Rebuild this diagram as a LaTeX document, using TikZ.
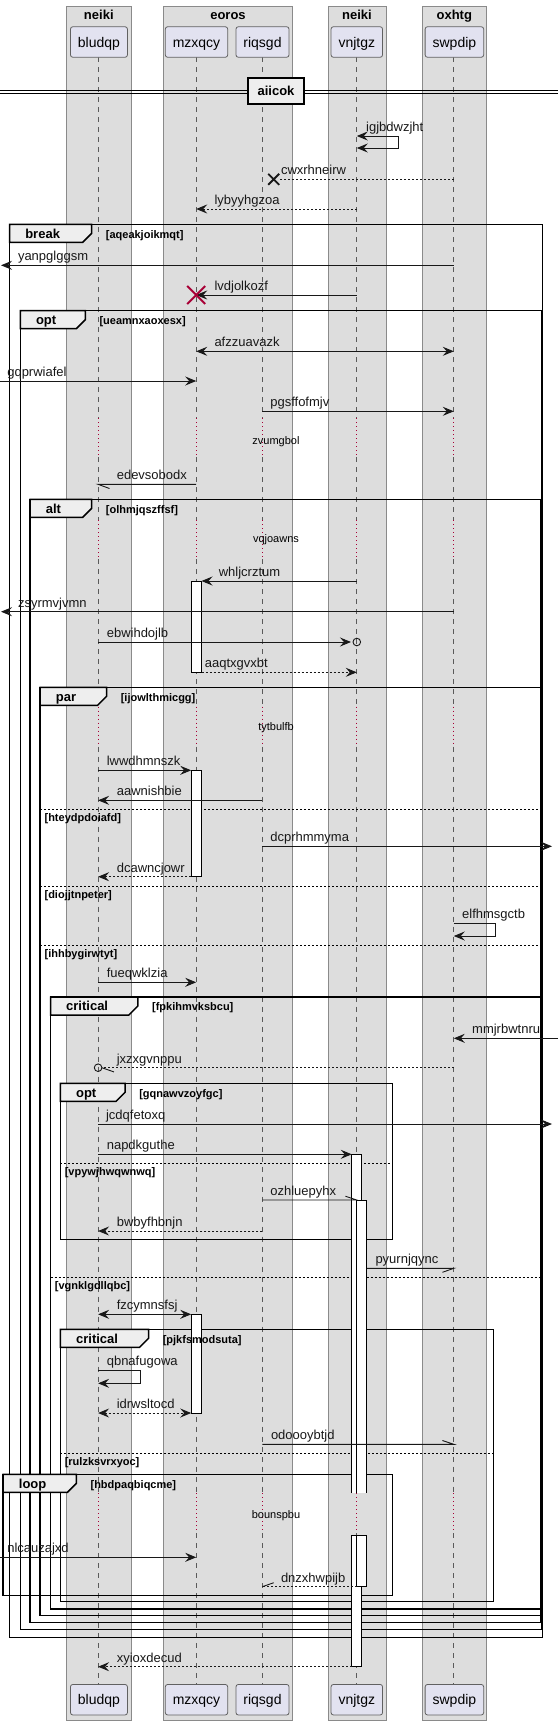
\documentclass[tikz,border=0pt]{standalone}
\usepackage{fontspec}
\setmainfont{Liberation Sans}
\usetikzlibrary{arrows.meta}
\pgfdeclarelayer{fg}
\pgfsetlayers{main,fg}
\definecolor{lanefill}{HTML}{DDDDDD}
\definecolor{partfill}{HTML}{E2E2F0}
\definecolor{tabfill}{HTML}{EEEEEE}
\definecolor{delayred}{HTML}{A80036}
\definecolor{ink}{HTML}{181818}
\definecolor{lanebord}{HTML}{8A8A8A}
\definecolor{lifegray}{HTML}{5A5A5A}
\def\XB{98.1}\def\XM{196.2}\def\XR{262.3}\def\XV{356.8}\def\XS{453.8}
\newcommand\sqframe[8]{%
 \draw[frameline] (#1,#2) rectangle (#3,#4);
 \pgfmathsetmacro\sqtb{#2+18}\pgfmathsetmacro\sqtm{#2+9}\pgfmathsetmacro\sqtd{#5-9}%
 \filldraw[tabshape] (#1,#2) -- (#5,#2) -- (#5,\sqtm) -- (\sqtd,\sqtb) -- (#1,\sqtb) -- cycle;
 \pgfmathsetmacro\sqlb{#2+13.8}\pgfmathsetmacro\sqlx{#1+15.5}\pgfmathsetmacro\sqcx{#5+14}%
 \begin{pgfonlayer}{fg}
 \node[framelab] (#8l) at (\sqlx,\sqlb) {#6};
 \node[condlab] (#8c) at (\sqcx,\sqlb) {#7};
 \end{pgfonlayer}
}
\newcommand\sqelse[5]{%
 \draw[sepline] (#1,#3) -- (#2,#3);
 \pgfmathsetmacro\sqex{#1+4.2}\pgfmathsetmacro\sqey{#3+12.5}%
 \begin{pgfonlayer}{fg}
 \node[condlab] (#5) at (\sqex,\sqey) {#4};
 \end{pgfonlayer}
}
\begin{document}
\begin{tikzpicture}[x=1pt,y=-1pt,
  >={Stealth[length=11pt,width=9pt,inset=4pt]},
  lane/.style={fill=lanefill,draw=lanebord,line width=0.8pt},
  partbox/.style={fill=partfill,draw=lanebord!70!black,line width=0.8pt,rounded corners=2.5pt,minimum height=30.6pt,inner xsep=7.5pt,text height=10.5pt,text depth=0.5pt,font=\fontsize{14}{16}\selectfont},
  lanetitle/.style={anchor=base,inner sep=0pt,font=\bfseries\fontsize{13}{15}\selectfont},
  life/.style={draw=lifegray,line width=0.7pt,dash pattern=on 5pt off 5pt},
  delayline/.style={draw=delayred,line width=0.9pt,dash pattern=on 1pt off 3pt},
  frameline/.style={draw=black,line width=1.5pt},
  tabshape/.style={fill=tabfill,draw=black,line width=1.5pt},
  framelab/.style={anchor=base west,inner sep=0pt,font=\bfseries\fontsize{13}{15}\selectfont},
  condlab/.style={anchor=base west,inner sep=0pt,font=\bfseries\fontsize{11}{13}\selectfont},
  sepline/.style={draw=black,line width=0.8pt,dash pattern=on 2pt off 2pt},
  msg/.style={draw=ink,line width=0.9pt},
  rmsg/.style={msg,dash pattern=on 2pt off 2pt},
  msglab/.style={anchor=base west,inner sep=0pt,font=\fontsize{13}{15}\selectfont,text=ink},
  delaylab/.style={anchor=base,inner sep=0pt,font=\fontsize{11}{13}\selectfont},
  actbox/.style={fill=white,draw=black,line width=0.9pt},
]
\useasboundingbox (0,0) rectangle (558,1725);
% lanes
\draw[lane] (66.5,6) rectangle (131.1,1720);
\draw[lane] (163.1,6) rectangle (292.8,1720);
\draw[lane] (328.0,6) rectangle (386.0,1720);
\draw[lane] (422.2,6) rectangle (486.5,1720);
\node[lanetitle] (t1) at (98.8,19) {neiki};
\node[lanetitle] (t2) at (228,19) {eoros};
\node[lanetitle] (t3) at (357,19) {neiki};
\node[lanetitle] (t4) at (454.3,19) {oxhtg};
% lifelines
\foreach \x in {\XB,\XM,\XR,\XV,\XS}{
  \draw[life] (\x,57.3) -- (\x,418);
  \draw[delayline] (\x,418) -- (\x,457);
  \draw[life] (\x,457) -- (\x,520);
  \draw[delayline] (\x,520) -- (\x,559);
  \draw[life] (\x,559) -- (\x,706.7);
  \draw[delayline] (\x,706.7) -- (\x,746.7);
  \draw[life] (\x,746.7) -- (\x,1493.3);
  \draw[delayline] (\x,1493.3) -- (\x,1533.3);
  \draw[life] (\x,1533.3) -- (\x,1684.3);
}
% participants
\foreach \n/\x/\t in {pB/98.95/bludqp,pM/196.5/mzxqcy,pR/262.5/riqsgd,pV/356.8/vnjtgz,pS/454.4/swpdip}{
  \node[partbox] (\n top) at (\x,42) {\t};
  \node[partbox] (\n bot) at (\x,1699.7) {\t};
}
% divider
\draw[black,line width=1pt] (0,90) -- (558,90) (0,93.7) -- (558,93.7);
\node[draw=black,line width=2pt,fill=tabfill,minimum width=56pt,minimum height=26pt,inner sep=0pt,font=\bfseries\fontsize{13}{15}\selectfont] (div) at (276,91.3) {aiicok};
% frames
\sqframe{9.6}{224.3}{542.5}{1637.3}{91.7}{break}{[aqeakjoikmqt]}{fbreak}
\sqframe{20.3}{310.7}{541.5}{1629.7}{85.3}{opt}{[ueamnxaoxesx]}{fopt}
\sqframe{30.2}{499.3}{541}{1622.3}{91.7}{alt}{[olhmjqszffsf]}{falt}
\sqframe{40.2}{687.3}{541}{1615.7}{106.6}{par}{[ijowlthmicgg]}{fpar}
\sqelse{40.2}{541}{809.3}{[hteydpdoiafd]}{e1}
\sqelse{40.2}{541}{886}{[diojjtnpeter]}{e2}
\sqelse{40.2}{541}{945.3}{[ihhbygirwtyt]}{e3}
\sqframe{50.5}{997}{541}{1609}{137.9}{critical}{[fpkihmvksbcu]}{fcrit}
\sqelse{50.5}{541}{1277.3}{[vgnklgdllqbc]}{e4}
\sqframe{60.4}{1083.3}{392.4}{1239.3}{125.1}{opt}{[gqnawvzoyfgc]}{fopttwo}
\sqelse{60.4}{392.4}{1163.3}{[vpywjhwqwnwq]}{e5}
\sqframe{60.4}{1329.3}{493.3}{1601.7}{148.6}{critical}{[pjkfsmodsuta]}{fcrittwo}
\sqelse{60.4}{493.3}{1453.3}{[rulzksvrxyoc]}{e6}
\sqframe{3.2}{1474.3}{392.4}{1595.3}{76.4}{loop}{[hbdpaqbiqcme]}{floop}
% delays
\node[delaylab] (d1) at (276,444.5) {zvumgbol};
\node[delaylab] (d2) at (276,542.3) {vqjoawns};
\node[delaylab] (d3) at (276,730.5) {tytbulfb};
\node[delaylab] (d4) at (276,1518) {bounspbu};
% activations
\draw[actbox] (191.2,581) rectangle (201.5,672.3);
\draw[actbox] (191.2,770.3) rectangle (201.5,876.7);
\draw[actbox] (191.2,1314.3) rectangle (201.5,1413);
\fill[white] (351.8,1154.3) rectangle (361.8,1493.3);
\draw[black,line width=0.9pt] (351.8,1493.3) -- (351.8,1154.3) -- (361.8,1154.3) -- (361.8,1493.3);
\fill[white] (356.8,1200) rectangle (366.8,1493.3);
\draw[black,line width=0.9pt] (356.8,1493.3) -- (356.8,1200) -- (366.8,1200) -- (366.8,1493.3);
\draw[actbox] (351.8,1535) rectangle (361.8,1666.7);
\draw[actbox] (356.8,1535) rectangle (366.8,1586.7);
% messages
\draw[msg,<->] (\XV,136) -- (398.8,136) -- (398.8,148) -- (\XV,148);
\node[msglab] (m1) at (366,131.5) {igjbdwzjht};
\draw[rmsg] (\XS,179.3) -- (279,179.3);
\draw[ink,line width=1.8pt] (268.2,173.8) -- (279.2,184.8) (268.2,184.8) -- (279.2,173.8);
\node[msglab] (m2) at (280.8,174.8) {cwxrhneirw};
\draw[rmsg,->] (\XV,209) -- (\XM,209);
\node[msglab] (m3) at (214.3,204.5) {lybyyhgzoa};
\draw[msg,->] (\XS,265.3) -- (1,265.3);
\node[msglab] (m4) at (17.8,260.8) {yanpglggsm};
\draw[msg,->] (\XV,295) -- (\XM,295);
\draw[delayred,line width=2pt] (187.2,286) -- (205.2,304) (187.2,304) -- (205.2,286);
\node[msglab] (m5) at (214.3,290.5) {lvdjolkozf};
\draw[msg,<->] (\XM,351.3) -- (\XS,351.3);
\node[msglab] (m6) at (214.3,346.8) {afzzuavazk};
\draw[msg,->] (0,381) -- (\XM,381);
\node[msglab] (m7) at (7.1,376.5) {gqprwiafel};
\draw[msg,->] (\XR,411.3) -- (\XS,411.3);
\node[msglab] (m8) at (270.1,406.8) {pgsffofmjv};
\draw[msg] (\XM,484.3) -- (\XB,484.3) -- ++(11.4,4.2);
\node[msglab] (m9) at (116.6,479.8) {edevsobodx};
\draw[msg,->] (\XV,581) -- (201.5,581);
\node[msglab] (m10) at (218.6,576.5) {whljcrztum};
\draw[msg,->] (\XS,611.7) -- (1,611.7);
\node[msglab] (m11) at (17.8,607.2) {zsyrmvjvmn};
\draw[msg,->] (\XB,642) -- (351,642);
\draw[ink,line width=0.9pt] (\XV,642) circle (3.8);
\node[msglab] (m12) at (106.6,637.5) {ebwihdojlb};
\draw[rmsg,->] (201.5,672.3) -- (\XV,672.3);
\node[msglab] (m13) at (204.7,667.8) {aaqtxgvxbt};
\draw[msg,->] (\XB,770.3) -- (191.2,770.3);
\node[msglab] (m14) at (106.6,765.8) {lwwdhmnszk};
\draw[msg,->] (\XR,800.3) -- (\XB,800.3);
\node[msglab] (m15) at (116.6,795.8) {aawnishbie};
\draw[msg,->] (\XR,846.3) -- (552,846.3);
\node[msglab] (m16) at (270.1,841.8) {dcprhmmyma};
\draw[rmsg,->] (191.2,876.7) -- (\XB,876.7);
\node[msglab] (m17) at (116.6,872.2) {dcawncjowr};
\draw[msg,->] (\XS,923.3) -- (495.8,923.3) -- (495.8,936) -- (\XS,936);
\node[msglab] (m18) at (462,918.8) {elfhmsgctb};
\draw[msg,->] (\XB,982.3) -- (\XM,982.3);
\node[msglab] (m19) at (106.6,977.8) {fueqwklzia};
\draw[msg,->] (558,1038.3) -- (\XS,1038.3);
\node[msglab] (m20) at (472,1033.8) {mmjrbwtnru};
\draw[rmsg] (\XS,1067.7) -- (101.9,1067.7);
\draw[msg] (101.9,1067.7) -- ++(12,4.2);
\draw[ink,line width=0.9pt] (\XB,1067.7) circle (3.8);
\node[msglab] (m21) at (116.6,1063.2) {jxzxgvnppu};
\draw[msg,->] (\XB,1124) -- (552,1124);
\node[msglab] (m22) at (105.9,1119.5) {jcdqfetoxq};
\draw[msg,->] (\XB,1154.3) -- (351.8,1154.3);
\node[msglab] (m23) at (106.6,1149.8) {napdkguthe};
\draw[msg] (\XR,1200) -- (\XV,1200) -- ++(-11.4,-3.8);
\node[msglab] (m24) at (270.1,1195.5) {ozhluepyhx};
\draw[rmsg,->] (\XR,1231) -- (\XB,1231);
\node[msglab] (m25) at (116.6,1226.5) {bwbyfhbnjn};
\draw[msg] (366.8,1268.3) -- (\XS,1268.3) -- ++(-11.4,4);
\node[msglab] (m26) at (375.3,1263.8) {pyurnjqync};
\draw[msg,<->] (\XB,1314.3) -- (191.2,1314.3);
\node[msglab] (m27) at (116.6,1309.8) {fzcymnsfsj};
\draw[msg,->] (\XB,1370.3) -- (140.4,1370.3) -- (140.4,1383.3) -- (\XB,1383.3);
\node[msglab] (m28) at (106.6,1365.8) {qbnafugowa};
\draw[rmsg,<->] (\XB,1413) -- (191.2,1413);
\node[msglab] (m29) at (116.6,1408.5) {idrwsltocd};
\draw[msg] (\XR,1444.3) -- (\XS,1444.3) -- ++(-11.4,-3.8);
\node[msglab] (m30) at (270.8,1439.8) {odoooybtjd};
\draw[msg,->] (0,1557.3) -- (\XM,1557.3);
\node[msglab] (m31) at (7.1,1552.8) {nlcauzajxd};
\draw[rmsg] (356.8,1586.7) -- (\XR,1586.7);
\draw[msg] (\XR,1586.7) -- ++(11.4,-4);
\node[msglab] (m32) at (280.8,1582.2) {dnzxhwpijb};
\draw[rmsg,->] (351.8,1666.7) -- (\XB,1666.7);
\node[msglab] (m33) at (116.6,1662.2) {xyioxdecud};
\end{tikzpicture}
\end{document}
